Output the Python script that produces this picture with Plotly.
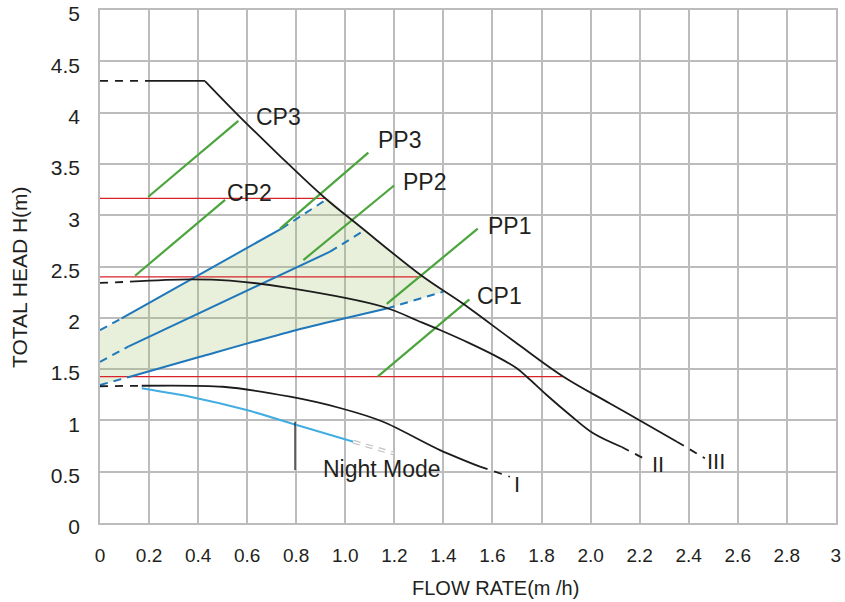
import plotly.graph_objects as go

# ---------------- data ----------------
x_ticks = [0, 0.2, 0.4, 0.6, 0.8, 1.0, 1.2, 1.4, 1.6, 1.8, 2.0, 2.2, 2.4, 2.6, 2.8, 3]
x_tick_labels = ["0", "0.2", "0.4", "0.6", "0.8", "1.0", "1.2", "1.4", "1.6", "1.8",
                 "2.0", "2.2", "2.4", "2.6", "2.8", "3"]
y_ticks = [0, 0.5, 1, 1.5, 2, 2.5, 3, 3.5, 4, 4.5, 5]
y_tick_labels = ["0", "0.5", "1", "1.5", "2", "2.5", "3", "3.5", "4", "4.5", "5"]

# speed curve III
III_dash_start_x = [0, 0.196]
III_dash_start_y = [4.31, 4.31]
III_top_x = [0.196, 0.428]
III_top_y = [4.31, 4.31]
III_x = [0.428, 0.571, 0.734, 0.917, 1.060, 1.313, 1.476, 1.692, 1.888, 2.079, 2.201, 2.352]
III_y = [4.308, 3.957, 3.577, 3.168, 2.890, 2.407, 2.144, 1.764, 1.428, 1.165, 0.999, 0.792]
III_dash_end_x = [2.352, 2.466]
III_dash_end_y = [0.792, 0.631]

# speed curve II
II_dash_start_x = [0, 0.122]
II_dash_start_y = [2.34, 2.352]
II_x = [0.122, 0.367, 0.530, 0.775, 1.154, 1.305, 1.386, 1.508, 1.631, 1.699, 1.740,
        1.821, 1.916, 2.011, 2.127]
II_y = [2.352, 2.375, 2.362, 2.290, 2.108, 1.962, 1.881, 1.751, 1.605, 1.508, 1.426,
        1.248, 1.053, 0.874, 0.741]
II_dash_end_x = [2.127, 2.229]
II_dash_end_y = [0.741, 0.614]

# speed curve I
I_dash_start_x = [0, 0.170]
I_dash_start_y = [1.333, 1.338]
I_x = [0.170, 0.501, 0.775, 0.978, 1.154, 1.386, 1.549]
I_y = [1.338, 1.328, 1.231, 1.121, 0.987, 0.711, 0.549]
I_dash_end_x = [1.549, 1.671]
I_dash_end_y = [0.549, 0.451]

# night mode
night_x = [0.170, 0.367, 0.598, 0.802, 1.033]
night_y = [1.313, 1.231, 1.101, 0.955, 0.792]
night_dash_x = [1.033, 1.196]
night_dash_y = [0.792, 0.679]
night_leader_x = [0.795, 0.795]
night_leader_y = [0.987, 0.517]

# proportional pressure lines (blue)
pp3_dash_a_x = [0, 0.088]
pp3_dash_a_y = [1.88, 1.995]
pp3_x = [0.088, 0.74]
pp3_y = [1.995, 2.87]
pp3_dash_b_x = [0.74, 0.931]
pp3_dash_b_y = [2.87, 3.165]

pp2_dash_a_x = [0, 0.115]
pp2_dash_a_y = [1.57, 1.72]
pp2_x = [0.115, 0.938]
pp2_y = [1.72, 2.645]
pp2_dash_b_x = [0.938, 1.08]
pp2_dash_b_y = [2.645, 2.855]

pp1_dash_a_x = [0, 0.122]
pp1_dash_a_y = [1.345, 1.426]
pp1_x = [0.122, 0.408, 0.775, 1.169]
pp1_y = [1.426, 1.62, 1.865, 2.09]
pp1_dash_b_x = [1.169, 1.40]
pp1_dash_b_y = [2.09, 2.255]

# shaded working area
shade_x = [0, 0, 0.088, 0.74, 0.931, 1.060, 1.313, 1.40, 1.169, 0.775, 0.408, 0.122, 0]
shade_y = [1.345, 1.88, 1.995, 2.87, 3.165, 2.890, 2.407, 2.255, 2.09, 1.865, 1.62, 1.426, 1.345]

# constant pressure lines (red)
cp_levels = [3.165, 2.40, 1.426]
cp_ends = [0.92, 1.31, 1.886]

# green leader lines
leader_names = ["CP3", "CP2", "PP3", "PP2", "PP1", "CP1"]
leader_x0 = [0.197, 0.143, 0.734, 0.829, 1.169, 1.133]
leader_y0 = [3.18, 2.41, 2.87, 2.563, 2.135, 1.43]
leader_x1 = [0.564, 0.51, 1.094, 1.199, 1.54, 1.506]
leader_y1 = [3.92, 3.15, 3.61, 3.29, 2.87, 2.18]
label_x = [0.728, 0.608, 1.223, 1.324, 1.671, 1.627]
label_y = [3.96, 3.22, 3.73, 3.32, 2.895, 2.21]

curve_labels = ["III", "II", "I", "Night Mode"]
curve_label_x = [2.51, 2.275, 1.70, 1.148]
curve_label_y = [0.60, 0.575, 0.38, 0.526]

# ---------------- styles ----------------
BLACK = "#1c1c1c"
BLUE = "#1f78bb"
LBLUE = "#42ade0"
GREEN = "#4ba53c"
RED = "#d8232a"
GRID = "#bcbcbc"
FONT = "Liberation Sans, Arial, Helvetica, sans-serif"
TXT = "#231f20"

fig = go.Figure()


def line(x, y, color, width, dash=None, shape="linear", smoothing=0.6):
    fig.add_trace(go.Scatter(
        x=x, y=y, mode="lines", showlegend=False, hoverinfo="skip",
        line=dict(color=color, width=width, dash=dash, shape=shape, smoothing=smoothing)))


# shaded area
fig.add_trace(go.Scatter(x=shade_x, y=shade_y, mode="lines", fill="toself",
                         fillcolor="rgba(160,190,100,0.24)", line=dict(width=0),
                         showlegend=False, hoverinfo="skip"))

# red constant pressure lines
for lvl, xe in zip(cp_levels, cp_ends):
    line([0, xe], [lvl, lvl], RED, 1.3)

# blue proportional pressure lines
for xa, ya, xs, ys, xb, yb in [
    (pp3_dash_a_x, pp3_dash_a_y, pp3_x, pp3_y, pp3_dash_b_x, pp3_dash_b_y),
    (pp2_dash_a_x, pp2_dash_a_y, pp2_x, pp2_y, pp2_dash_b_x, pp2_dash_b_y),
    (pp1_dash_a_x, pp1_dash_a_y, pp1_x, pp1_y, pp1_dash_b_x, pp1_dash_b_y),
]:
    line(xa, ya, BLUE, 2, dash="8px,6px")
    line(xs, ys, BLUE, 2, shape="spline")
    line(xb, yb, BLUE, 2, dash="8px,6px")

# green leaders
for x0, y0, x1, y1 in zip(leader_x0, leader_y0, leader_x1, leader_y1):
    line([x0, x1], [y0, y1], GREEN, 2.2)

# night mode
line(night_x, night_y, LBLUE, 2, shape="spline")
line(night_dash_x, night_dash_y, "#c4c4c4", 4, dash="7px,6px")
line(night_dash_x, night_dash_y, "#ffffff", 1.5, dash="7px,6px")
line(night_leader_x, night_leader_y, BLACK, 1.2)

# black speed curves
for xs, ys in [(III_dash_start_x, III_dash_start_y), (III_dash_end_x, III_dash_end_y),
               (II_dash_start_x, II_dash_start_y), (II_dash_end_x, II_dash_end_y),
               (I_dash_start_x, I_dash_start_y), (I_dash_end_x, I_dash_end_y)]:
    line(xs, ys, BLACK, 1.8, dash="8px,7px")
line(III_top_x, III_top_y, BLACK, 1.8)
line(III_x, III_y, BLACK, 1.8, shape="spline", smoothing=1.0)
line(II_x, II_y, BLACK, 1.8, shape="spline", smoothing=1.0)
line(I_x, I_y, BLACK, 1.8, shape="spline", smoothing=0.8)

# labels
for name, lx, ly in zip(leader_names, label_x, label_y):
    fig.add_annotation(x=lx, y=ly, text=name, showarrow=False, xref="x", yref="y",
                       xanchor="center", yanchor="middle",
                       font=dict(family=FONT, size=23, color=TXT))
for name, lx, ly in zip(curve_labels, curve_label_x, curve_label_y):
    fig.add_annotation(x=lx, y=ly, text=name, showarrow=False, xref="x", yref="y",
                       xanchor="center", yanchor="middle",
                       font=dict(family=FONT, size=23 if name == "Night Mode" else 22, color=TXT))

# axis titles
fig.add_annotation(x=1.612, y=-0.127, xref="x", yref="paper", text="FLOW RATE(m /h)",
                   xanchor="center", yanchor="middle",
                   showarrow=False, font=dict(family=FONT, size=20, color=TXT))
fig.add_annotation(x=-0.110, y=0.4795, xref="paper", yref="paper", text="TOTAL HEAD H(m)",
                   xanchor="center", yanchor="middle",
                   textangle=-90, showarrow=False, font=dict(family=FONT, size=21, color=TXT))

fig.update_layout(
    width=845, height=602,
    margin=dict(l=100, r=9, t=10, b=79, autoexpand=False),
    paper_bgcolor="white", plot_bgcolor="white",
    xaxis=dict(range=[0, 3.0005], tickvals=x_ticks, ticktext=x_tick_labels,
               showgrid=True, gridcolor=GRID, gridwidth=1.5,
               showline=True, linecolor=GRID, linewidth=1.5, mirror=True,
               zeroline=False, ticks="", ticklabelstandoff=14, automargin=False,
               ticklabeloverflow="allow",
               tickfont=dict(family=FONT, size=19, color=TXT)),
    yaxis=dict(range=[0, 5.0005], tickvals=y_ticks, ticktext=y_tick_labels,
               showgrid=True, gridcolor=GRID, gridwidth=1.5,
               showline=True, linecolor=GRID, linewidth=1.5, mirror=True,
               zeroline=False, ticks="", ticklabelstandoff=14, automargin=False,
               ticklabeloverflow="allow", ticklabelshift=4,
               tickfont=dict(family=FONT, size=21, color=TXT)),
)

fig.write_html("out.html")
